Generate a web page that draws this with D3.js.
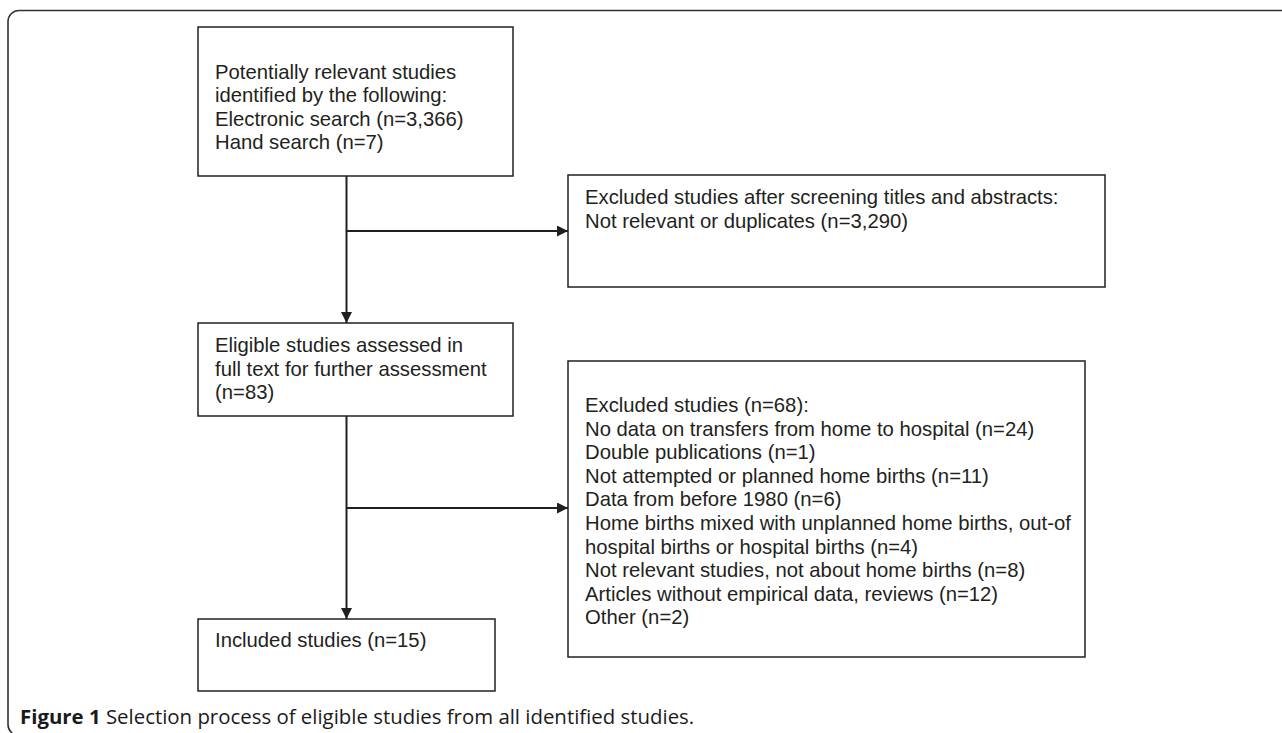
<!DOCTYPE html>
<html>
<head>
<meta charset="utf-8">
<script src="https://cdn.jsdelivr.net/npm/d3@7"></script>
<style>
  html, body { margin: 0; padding: 0; background: #fff; }
  svg { display: block; }
</style>
</head>
<body>
<svg id="chart" width="1282" height="733"></svg>
<script>
// ---- content ----
const identifiedLines = [
  "Potentially relevant studies",
  "identified by the following:",
  "Electronic search (n=3,366)",
  "Hand search (n=7)"
];
const screenedOutLines = [
  "Excluded studies after screening titles and abstracts:",
  "Not relevant or duplicates (n=3,290)"
];
const eligibleLines = [
  "Eligible studies assessed in",
  "full text for further assessment",
  "(n=83)"
];
const excludedLines = [
  "Excluded studies (n=68):",
  "No data on transfers from home to hospital (n=24)",
  "Double publications (n=1)",
  "Not attempted or planned home births (n=11)",
  "Data from before 1980 (n=6)",
  "Home births mixed with unplanned home births, out-of",
  "hospital births or hospital births (n=4)",
  "Not relevant studies, not about home births (n=8)",
  "Articles without empirical data, reviews (n=12)",
  "Other (n=2)"
];
const includedLines = ["Included studies (n=15)"];
const captionBold = "Figure 1";
const captionText = " Selection process of eligible studies from all identified studies.";

// ---- layout ----
const svg = d3.select("#chart");
const ink = "#231f20";

const defs = svg.append("defs");
defs.append("marker")
  .attr("id", "arrow")
  .attr("viewBox", "0 0 10 10")
  .attr("refX", 10).attr("refY", 5)
  .attr("markerWidth", 11).attr("markerHeight", 11)
  .attr("markerUnits", "userSpaceOnUse")
  .attr("orient", "auto")
  .append("path")
  .attr("d", "M0,0 L10,5 L0,10 Z")
  .attr("fill", ink);

// outer frame
svg.append("rect")
  .attr("x", 8).attr("y", 10.5)
  .attr("width", 1400).attr("height", 725)
  .attr("rx", 11).attr("ry", 11)
  .attr("fill", "none")
  .attr("stroke", "#333")
  .attr("stroke-width", 1.6);

const boxes = [
  { lines: identifiedLines,  x: 198, y: 27,  w: 315, h: 149, ty: 78.5 },
  { lines: screenedOutLines, x: 568, y: 175, w: 537, h: 112, ty: 204 },
  { lines: eligibleLines,    x: 198, y: 323, w: 315, h: 93,  ty: 352 },
  { lines: excludedLines,    x: 568, y: 361, w: 517, h: 296, ty: 412 },
  { lines: includedLines,    x: 198, y: 619, w: 297, h: 72,  ty: 647 }
];

const lineH = 23.6;
const g = svg.append("g");
boxes.forEach(b => {
  g.append("rect")
    .attr("x", b.x).attr("y", b.y)
    .attr("width", b.w).attr("height", b.h)
    .attr("fill", "#fff")
    .attr("stroke", ink)
    .attr("stroke-width", 1.5);
  const t = g.append("text")
    .attr("font-family", "'Liberation Sans', Arial, sans-serif")
    .attr("font-size", 20.3)
    .attr("fill", ink);
  t.selectAll("tspan").data(b.lines).join("tspan")
    .attr("x", b.x + 17)
    .attr("y", (d, i) => b.ty + i * lineH)
    .text(d => d);
});

// connectors
const cx = 346.5;
const conn = [
  { x1: cx, y1: 176, x2: cx, y2: 323 },
  { x1: cx, y1: 231, x2: 568, y2: 231 },
  { x1: cx, y1: 416, x2: cx, y2: 619 },
  { x1: cx, y1: 508, x2: 568, y2: 508 }
];
svg.append("g").selectAll("line").data(conn).join("line")
  .attr("x1", d => d.x1).attr("y1", d => d.y1)
  .attr("x2", d => d.x2).attr("y2", d => d.y2)
  .attr("stroke", ink)
  .attr("stroke-width", 2)
  .attr("marker-end", "url(#arrow)");

// caption
const cap = svg.append("text")
  .attr("x", 20).attr("y", 724)
  .attr("font-family", "'Open Sans', sans-serif")
  .attr("font-size", 20.4)
  .attr("fill", "#1a1a1a");
cap.append("tspan").attr("font-weight", "bold").text(captionBold);
cap.append("tspan").text(captionText);
</script>
</body>
</html>
